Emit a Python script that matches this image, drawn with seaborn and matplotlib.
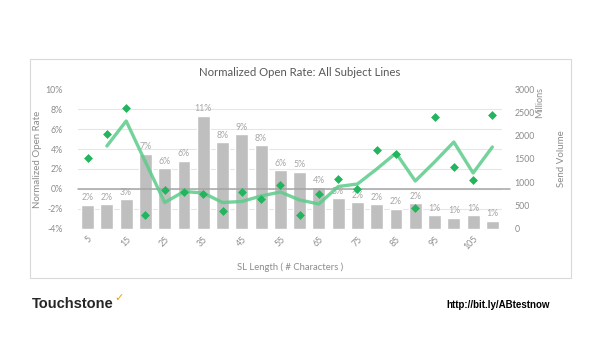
import matplotlib
matplotlib.use("Agg")
import matplotlib.pyplot as plt
from matplotlib.patches import Rectangle
from matplotlib.ticker import FixedLocator, FuncFormatter
import seaborn as sns
import pandas as pd

# ---- data ----
lengths = [5, 10, 15, 20, 25, 30, 35, 40, 45, 50, 55, 60, 65, 70, 75, 80, 85, 90, 95, 100, 105, 110]
send_volume = [514, 529, 636, 1607, 1300, 1457, 2421, 1857, 2029, 1793, 1257, 1229,
               893, 657, 571, 529, 436, 550, 293, 236, 293, 179]
volume_labels = ["2%", "2%", "3%", "7%", "6%", "6%", "11%", "8%", "9%", "8%", "6%", "5%",
                 "4%", "3%", "2%", "2%", "2%", "2%", "1%", "1%", "1%", "1%"]
open_rate = [3.07, 5.5, 8.1, -2.63, -0.1, -0.33, -0.5, -2.2, -0.33, -1.03, 0.4, -2.6,
             -0.47, 1.03, -0.03, 3.93, 3.47, -1.93, 7.17, 2.2, 0.93, 7.43]
trend_lengths = [10, 15, 20, 25, 30, 35, 40, 45, 50, 55, 60, 65, 70, 75, 80, 85, 90, 95, 100, 105, 110]
trend_rate = [4.3, 6.8, 2.7, -1.35, -0.25, -0.4, -1.35, -1.25, -0.7, -0.3, -1.1, -1.5,
              0.25, 0.5, 2.0, 3.6, 0.8, 2.7, 4.7, 1.6, 4.2]
left_ticks = [-4, -2, 0, 2, 4, 6, 8, 10]
right_ticks = [0, 500, 1000, 1500, 2000, 2500, 3000]
x_ticks = [5, 15, 25, 35, 45, 55, 65, 75, 85, 95, 105]

bars_df = pd.DataFrame({"length": lengths, "volume": send_volume})
pts_df = pd.DataFrame({"length": lengths, "rate": open_rate})
trend_df = pd.DataFrame({"length": trend_lengths, "rate": trend_rate})

sns.set_theme(style="white")
plt.rcParams["font.family"] = ["Lato", "DejaVu Sans"]

W, H = 601, 338
fig = plt.figure(figsize=(W / 100, H / 100), dpi=100)
fig.patch.set_facecolor("white")

ax = fig.add_axes([78 / W, (H - 229) / H, 424 / W, 140 / H])
ax2 = ax.twinx()
TXT = "#8c8c8c"

# bars (send volume, right axis)
sns.barplot(data=bars_df, x="length", y="volume", native_scale=True, color="#bfbfbf",
            saturation=1, width=0.67, ax=ax, zorder=2)
ax.bar_label(ax.containers[0], labels=volume_labels, padding=2, fontsize=6.3, color="#a6a6a6")
ax.set_ylim(0, 3000)
ax.set_xlim(2.5, 112.5)
ax.yaxis.tick_right()
ax.yaxis.set_label_position("right")
ax.yaxis.set_major_locator(FixedLocator(right_ticks))
ax.yaxis.set_major_formatter(FuncFormatter(lambda v, p: f"{v:.0f}"))
# gridlines aligned to the left axis ticks
ax.yaxis.set_minor_locator(FixedLocator(
    [(p - left_ticks[0]) / (left_ticks[-1] - left_ticks[0]) * 3000 for p in left_ticks]))
ax.grid(which="minor", axis="y", color="#e6e6e6", lw=0.8, zorder=0)
ax.set_axisbelow(True)
ax.set_ylabel("Send Volume", fontsize=7, color=TXT)
ax.yaxis.set_label_coords(1.13, 0.5)
ax.set_xticks(x_ticks)
ax.set_xticklabels([str(t) for t in x_ticks], rotation=45, ha="right", rotation_mode="anchor")
ax.set_xlabel("SL Length ( # Characters )", fontsize=6.8, color=TXT, labelpad=8)
ax.tick_params(axis="both", length=0, labelsize=6.3, labelcolor=TXT)
ax.tick_params(axis="y", which="minor", length=0)
ax.tick_params(axis="x", pad=4)
ax.tick_params(axis="y", pad=9, labelright=True, labelleft=False)
for s in ax.spines.values():
    s.set_visible(False)

# open rate (left axis)
ax2.axhline(0, color="#a6a6a6", lw=1.1, xmax=1.02, clip_on=False, zorder=1)
sns.lineplot(data=trend_df, x="length", y="rate", color="#5ccc8a", lw=2.4, alpha=0.85,
             ax=ax2, zorder=3)
sns.scatterplot(data=pts_df, x="length", y="rate", marker="D", s=16, color="#22b55e",
                edgecolor="#22b55e", linewidth=0.5, ax=ax2, zorder=4)
ax2.set_ylim(-4.001, 10.001)
ax2.yaxis.tick_left()
ax2.yaxis.set_label_position("left")
ax2.yaxis.set_major_locator(FixedLocator(left_ticks))
ax2.yaxis.set_major_formatter(FuncFormatter(lambda v, p: f"{v:.0f}%"))
ax2.tick_params(axis="y", length=0, labelsize=6.3, labelcolor=TXT, pad=11,
                labelleft=True, labelright=False)
ax2.set_ylabel("Normalized Open Rate", fontsize=7, color=TXT)
ax2.yaxis.set_label_coords(-0.085, 0.5)
ax2.set_xlabel("")
for s in ax2.spines.values():
    s.set_visible(False)

# title, extras
fig.text(300 / W, 1 - 72 / H, "Normalized Open Rate: All Subject Lines", ha="center", va="center",
         fontsize=8.2, color="#595959")
fig.text(540 / W, 1 - 103 / H, "Millions", rotation=90, ha="center", va="center",
         fontsize=6.5, color=TXT)

fig.patches.append(Rectangle((30 / W, (H - 278) / H), 541 / W, 219 / H, transform=fig.transFigure,
                             fill=False, ec="#d9d9d9", lw=0.8))

fig.text(32 / W, 1 - 304 / H, "Touchstone", fontsize=10.5, fontweight="bold",
         family=["Liberation Sans", "DejaVu Sans"], color="#262626", va="center", ha="left")
fig.text(114 / W, 1 - 298 / H, "\u2713", fontsize=8, fontweight="bold",
         family=["DejaVu Sans"], color="#e6a117", va="center", ha="left")
fig.text(498 / W, 1 - 305 / H, "http://bit.ly/ABtestnow", fontsize=7, fontweight="bold",
         family=["Liberation Sans", "DejaVu Sans"], color="black", va="center", ha="center")

fig.savefig("out.png", dpi=100, facecolor="white")
